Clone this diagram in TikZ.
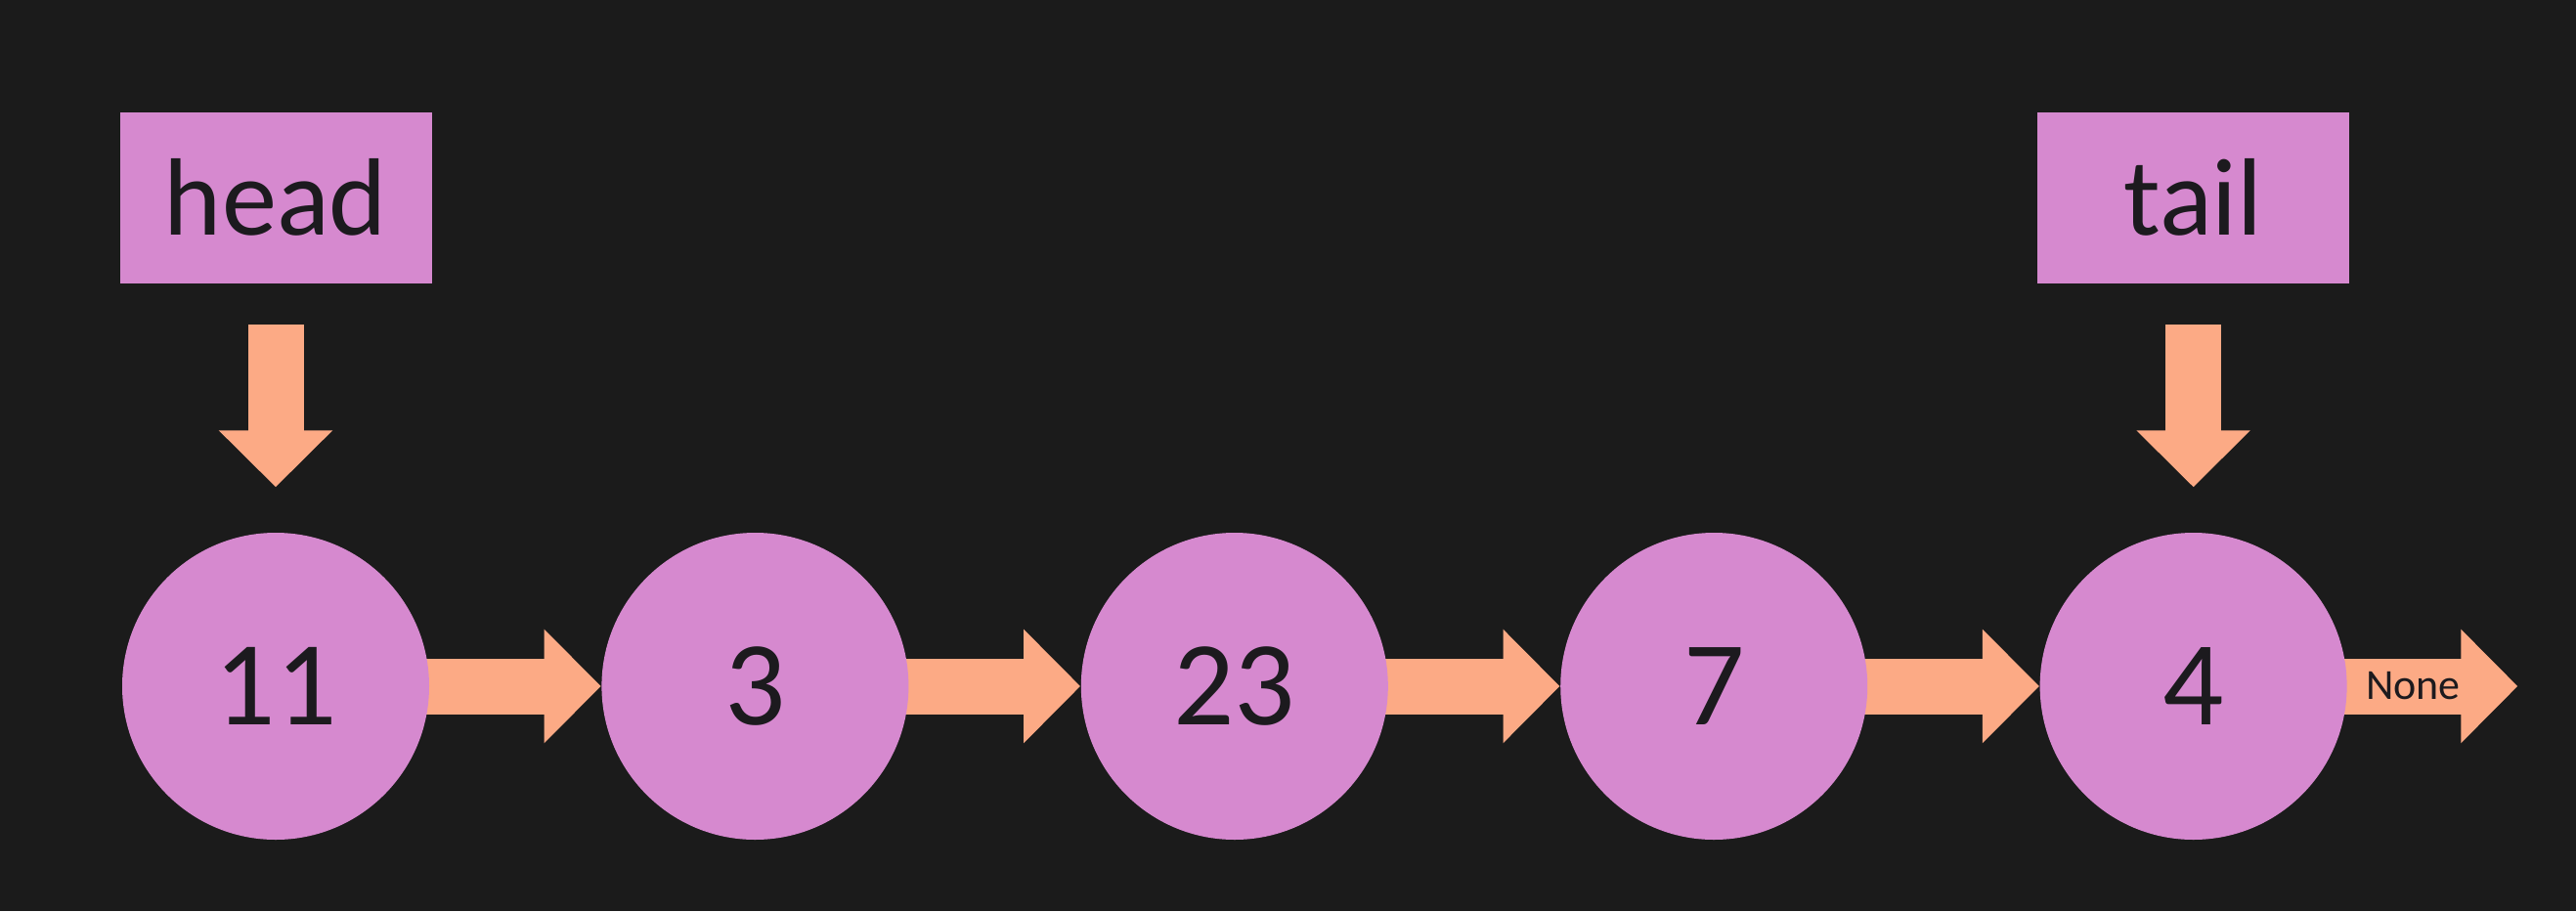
\documentclass[tikz,border=0pt]{standalone}
\usepackage{fontspec}
\setmainfont{Carlito}
\usetikzlibrary{positioning,arrows.meta,backgrounds}
\definecolor{bgdark}{HTML}{1B1B1B}
\definecolor{nodepink}{HTML}{D689CF}
\definecolor{peach}{HTML}{FCAA85}
\definecolor{inkdark}{HTML}{1C1A1E}
\tikzset{listnode/.style={circle, fill=nodepink, minimum size=3.14cm, inner sep=0pt,
                          text=inkdark, font=\fontsize{35}{35}\selectfont},
         pointerbox/.style={rectangle, fill=nodepink, minimum width=3.19cm, minimum height=1.75cm,
                          text=inkdark, font=\fontsize{32}{32}\selectfont},
         nextarrow/.style={peach, line width=0.57cm, -{Triangle[width=1.13cm, length=0.58cm]}}}

\begin{document}
\begin{tikzpicture}
            \useasboundingbox (0,0) rectangle (26.35,-9.32);
            \node[listnode] (n1) at (2.82,-7.02) {11};
            \node[listnode, right= 1.75cm of n1] (n2) {3};
            \node[listnode, right= 1.75cm of n2] (n3) {23};
            \node[listnode, right= 1.75cm of n3] (n4) {7};
            \node[listnode, right= 1.75cm of n4] (n5) {4};
            \node[pointerbox, above= 2.54cm of n1] (head) {head};
            \node[pointerbox, above= 2.54cm of n5] (tail) {tail};
            \coordinate[right= 1.74cm of n5.east] (nil);
            \node[text=inkdark, font=\fontsize{12.5}{12.5}\selectfont] (nonelbl) at ([xshift=0.67cm]n5.east) {None};

            \begin{scope}[on background layer]
            \fill[bgdark] (0,0) rectangle (26.35,-9.32);
            \foreach \a/\b in {n1/n2, n2/n3, n3/n4, n4/n5}
                \draw[nextarrow] (\a.center) -- (\b.west);
            \draw[nextarrow] (n5.center) -- (nil);
            \draw[nextarrow, shorten <=0.42cm, shorten >=0.46cm] (head.south) -- (n1.north);
            \draw[nextarrow, shorten <=0.42cm, shorten >=0.46cm] (tail.south) -- (n5.north);
            \end{scope}
        \end{tikzpicture}
\end{document}
